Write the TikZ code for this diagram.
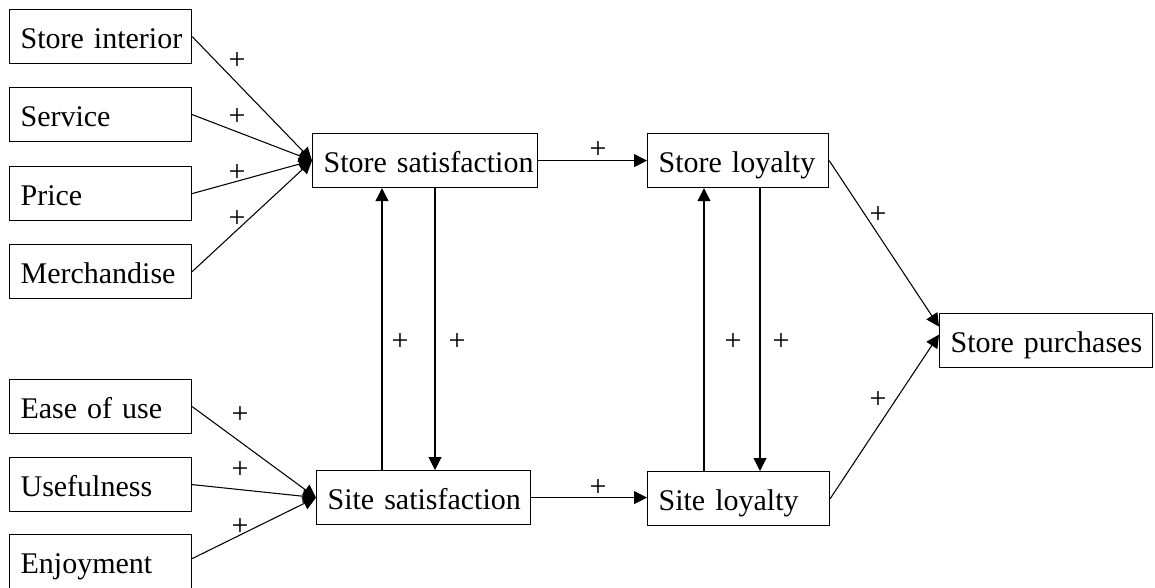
\documentclass[tikz,border=0pt]{standalone}
\usepackage{fontspec}
\setmainfont{Liberation Serif}
\usetikzlibrary{arrows.meta}
\begin{document}
\begin{tikzpicture}[x=0.75pt,y=-0.75pt,
  box/.style={draw,line width=0.9pt,minimum height=40.5pt,inner ysep=0pt,inner xsep=8.25pt,
    text height=18pt,text depth=0pt,anchor=north west,align=left,font=\fontsize{22.5}{26}\selectfont},
  arr/.style={line width=0.8pt,-{Triangle[length=9.75pt,width=9.75pt]}},
  plus/.style={font=\fontsize{22.5}{26}\selectfont,inner sep=0pt}]
\useasboundingbox (0,0) rectangle (1155,588);
% left boxes (width 182px)
\node[box,text width=120pt] (si) at (9,9) {\mbox{Store interior}};
\node[box,text width=120pt] (sv) at (9,87) {\mbox{Service}};
\node[box,text width=120pt] (pr) at (9,166) {\mbox{Price}};
\node[box,text width=120pt] (me) at (9,244) {\mbox{Merchandise}};
\node[box,text width=120pt] (eu) at (9,379) {\mbox{Ease of use}};
\node[box,text width=120pt] (us) at (9,457) {\mbox{Usefulness}};
\node[box,text width=120pt,minimum height=45pt,text height=15pt,text depth=1.5pt] (en) at (9,534) {\mbox{Enjoyment}};
% central boxes
\node[box,text width=152.25pt] (ssat) at (312,133) {\mbox{Store satisfaction}};
\node[box,text width=119.25pt] (sloy) at (647,133) {\mbox{Store loyalty}};
\node[box,text width=144pt] (wsat) at (316,470) {\mbox{Site satisfaction}};
\node[box,text width=120pt] (wloy) at (647,471) {\mbox{Site loyalty}};
\node[box,text width=143.25pt] (pur) at (939,313) {\mbox{Store purchases}};
% left arrows
\draw[arr] (si.east) -- (ssat.west);
\draw[arr] (sv.east) -- (ssat.west);
\draw[arr] (pr.east) -- (ssat.west);
\draw[arr] (me.east) -- (ssat.west);
\draw[arr] (eu.east) -- (wsat.west);
\draw[arr] (us.east) -- (wsat.west);
\draw[arr] ([yshift=4.5pt]en.east) -- (wsat.west);
% horizontal
\draw[arr] (ssat.east) -- (ssat.east -| sloy.west);
\draw[arr] (wsat.east) -- (wsat.east -| wloy.west);
% vertical
\coordinate (xa) at (382,0);
\coordinate (xb) at (435,0);
\coordinate (xc) at (704,0);
\coordinate (xd) at (760,0);
\draw[arr] (xa |- wsat.north) -- (xa |- ssat.south);
\draw[arr] (xb |- ssat.south) -- (xb |- wsat.north);
\draw[arr] (xc |- wloy.north) -- (xc |- sloy.south);
\draw[arr] (xd |- sloy.south) -- (xd |- wloy.north);
% to purchases
\draw[arr] (sloy.east) -- ([yshift=10.5pt]pur.west);
\draw[arr] (wloy.east) -- ([yshift=4.5pt]pur.west);
% plus labels
\node[plus] (p1) at (237,61) {+};
\node[plus] (p2) at (237,117) {+};
\node[plus] (p3) at (237,173) {+};
\node[plus] (p4) at (237,219) {+};
\node[plus] (p5) at (240,415) {+};
\node[plus] (p6) at (240,470) {+};
\node[plus] (p7) at (240,527) {+};
\node[plus] (p8) at (598,150) {+};
\node[plus] (p9) at (598,488) {+};
\node[plus] (p10) at (400,342) {+};
\node[plus] (p11) at (457,342) {+};
\node[plus] (p12) at (733,342) {+};
\node[plus] (p13) at (781,342) {+};
\node[plus] (p14) at (878,215) {+};
\node[plus] (p15) at (878,400) {+};
\end{tikzpicture}
\end{document}
